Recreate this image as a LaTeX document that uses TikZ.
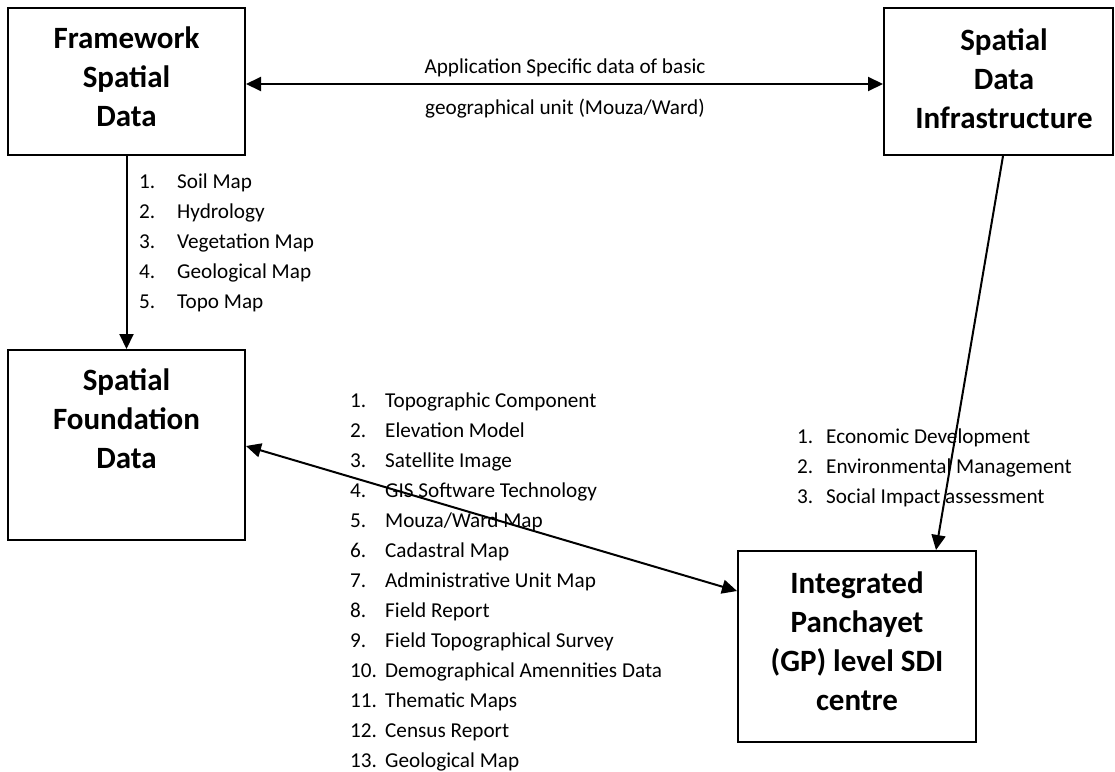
\documentclass[tikz,border=0pt]{standalone}
\usepackage{fontspec}
\setmainfont{Carlito}
\usetikzlibrary{arrows.meta}
\begin{document}
\begin{tikzpicture}[x=1pt,y=-1pt,
  box/.style={draw,line width=2pt,inner sep=0pt},
  title/.style={inner sep=0pt,anchor=base,font=\fontsize{31}{39}\selectfont\bfseries},
  lst/.style={inner sep=0pt,anchor=base west,font=\fontsize{21.2}{30}\selectfont},
  conn/.style={line width=2pt,-{Triangle[length=15pt,width=14pt]}},
  biconn/.style={line width=2pt,{Triangle[length=15pt,width=14pt]}-{Triangle[length=15pt,width=14pt]}}]
\useasboundingbox (0,0) rectangle (1115,771);
% boxes
\node[box,minimum width=237pt,minimum height=147pt] (A) at (126.5,81.5) {};
\node[box,minimum width=229pt,minimum height=147pt] (B) at (998.5,81.5) {};
\node[box,minimum width=237pt,minimum height=190pt] (C) at (126.5,445) {};
\node[box,minimum width=238pt,minimum height=191pt] (D) at (857,646.5) {};
% titles
\node[title] (tA) at (126.5,48) {\begin{tabular}[t]{@{}c@{}}Framework\\Spatial\\Data\end{tabular}};
\node[title] (tB) at (1004,50) {\begin{tabular}[t]{@{}c@{}}Spatial\\Data\\Infrastructure\end{tabular}};
\node[title] (tC) at (126.5,390) {\begin{tabular}[t]{@{}c@{}}Spatial\\Foundation\\Data\end{tabular}};
\node[title] (tD) at (857,593) {\begin{tabular}[t]{@{}c@{}}Integrated\\Panchayet\\(GP) level SDI\\centre\end{tabular}};
% top label
\node[inner sep=0pt,anchor=base,font=\fontsize{21.2}{30}\selectfont] (lab) at (565,73)
  {\begin{tabular}[t]{@{}c@{}}Application Specific data of basic\\[11pt]geographical unit (Mouza/Ward)\end{tabular}};
% lists
\node[lst] (L1) at (139,188) {\begin{tabular}[t]{@{}p{38pt}@{}l@{}}
1.&Soil Map\\2.&Hydrology\\3.&Vegetation Map\\4.&Geological Map\\5.&Topo Map\end{tabular}};
\node[lst] (L2) at (350,407) {\begin{tabular}[t]{@{}p{35pt}@{}l@{}}
1.&Topographic Component\\2.&Elevation Model\\3.&Satellite Image\\4.&GIS Software Technology\\
5.&Mouza/Ward Map\\6.&Cadastral Map\\7.&Administrative Unit Map\\8.&Field Report\\
9.&Field Topographical Survey\\10.&Demographical Amennities Data\\11.&Thematic Maps\\
12.&Census Report\\13.&Geological Map\end{tabular}};
\node[lst] (L3) at (797,443) {\begin{tabular}[t]{@{}p{29pt}@{}l@{}}
1.&Economic Development\\2.&Environmental Management\\3.&Social Impact assessment\end{tabular}};
% connectors
\draw[biconn] (A.east |- 0,84) -- (B.west |- 0,84);
\draw[conn] (A.south) -- (C.north);
\coordinate (bs) at (1003,155);
\coordinate (dn) at (936,551);
\draw[conn] (B.south -| bs) -- (D.north -| dn);
\coordinate (ce) at (247,446);
\coordinate (dw) at (738,591);
\draw[biconn] (C.east |- ce) -- (D.west |- dw);
\end{tikzpicture}
\end{document}
